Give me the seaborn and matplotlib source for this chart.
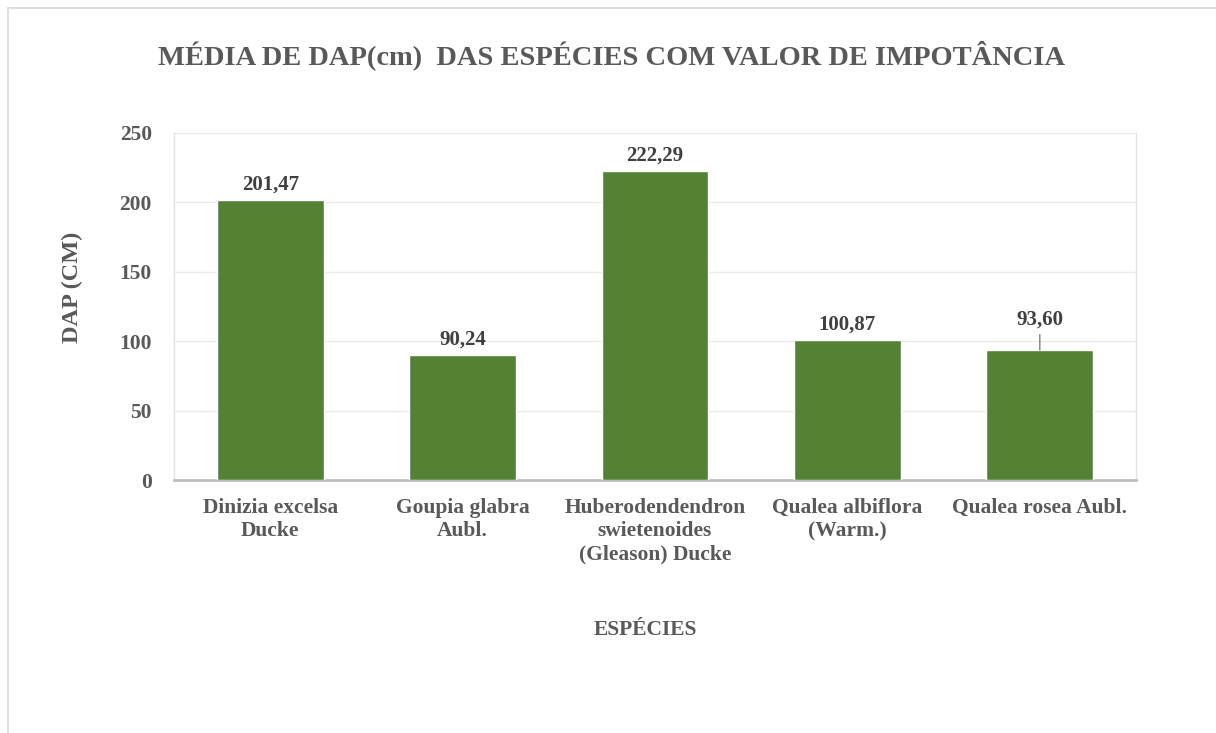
import matplotlib
matplotlib.use("Agg")
import matplotlib.pyplot as plt
import seaborn as sns
import pandas as pd
from matplotlib.patches import Rectangle

categories = ["Dinizia excelsa\nDucke", "Goupia glabra\nAubl.", "Huberodendendron\nswietenoides\n(Gleason) Ducke",
              "Qualea albiflora\n(Warm.)", "Qualea rosea Aubl."]
values = [201.47, 90.24, 222.29, 100.87, 93.60]
labels = ["201,47", "90,24", "222,29", "100,87", "93,60"]
yticks = [0, 50, 100, 150, 200, 250]

sns.set_theme(style="white")
plt.rcParams['font.family'] = ['Liberation Serif', 'DejaVu Serif']
plt.rcParams['font.weight'] = 'bold'

TXT = "#595959"
GREEN = "#548235"

fig = plt.figure(figsize=(12.16, 7.33), dpi=100)
fig.patches.append(Rectangle((8/1216, -0.1), 1.2, 1 - 8/733 + 0.1, transform=fig.transFigure,
                             fill=False, edgecolor="#D9D9D9", linewidth=1.2))
ax = fig.add_axes([174/1216, 1-480/733, (1136-174)/1216, (480-133)/733])

df = pd.DataFrame({"cat": categories, "val": values})
sns.barplot(data=df, x="cat", y="val", color=GREEN, width=0.555, saturation=1, ax=ax, zorder=3)

ax.set_ylim(0, 250)
ax.set_yticks(yticks)
ax.set_yticklabels([str(t) for t in yticks], fontsize=15.5, color=TXT, fontweight="bold")
ax.tick_params(axis="x", labelsize=15.5, colors=TXT, length=0, pad=13)
ax.tick_params(axis="y", length=0, pad=16)
for t in ax.get_xticklabels():
    t.set_fontweight("bold")
    t.set_color(TXT)
    t.set_linespacing(1.22)
ax.grid(axis="y", color="#EBEBEB", linewidth=1, zorder=0)
for s in ["left", "right", "top"]:
    ax.spines[s].set_color("#E3E3E3")
    ax.spines[s].set_linewidth(1)
ax.spines["top"].set_visible(False)
ax.spines["bottom"].set_color("#BFBFBF")
ax.spines["bottom"].set_linewidth(2)

for i, (v, lab) in enumerate(zip(values, labels)):
    if i == 4:
        ax.annotate(lab, xy=(i, v), xytext=(i, v + 14.5), ha="center", va="bottom", fontsize=15,
                    fontweight="bold", color="#404040",
                    arrowprops=dict(arrowstyle="-", color="#808080", lw=1, shrinkA=1, shrinkB=0))
    else:
        ax.text(i, v + 4, lab, ha="center", va="bottom", fontsize=15, fontweight="bold", color="#404040")

ax.set_xlabel("ESPÉCIES", fontsize=15.5, color=TXT, fontweight="bold")
ax.xaxis.set_label_coords((645-174)/(1136-174), -(630-480)/347)
ax.xaxis.label.set_va("center")
ax.set_ylabel("DAP (CM)", fontsize=17.5, color=TXT, fontweight="bold")
ax.yaxis.set_label_coords(-(174-72)/962, (480-287)/347)
ax.yaxis.label.set_va("center")

fig.text(612/1216, 1-55/733, "MÉDIA DE DAP(cm)  DAS ESPÉCIES COM VALOR DE IMPOTÂNCIA",
         ha="center", va="center", fontsize=20.5, fontweight="bold", color=TXT)

fig.savefig("out.png", dpi=100, facecolor="white")
